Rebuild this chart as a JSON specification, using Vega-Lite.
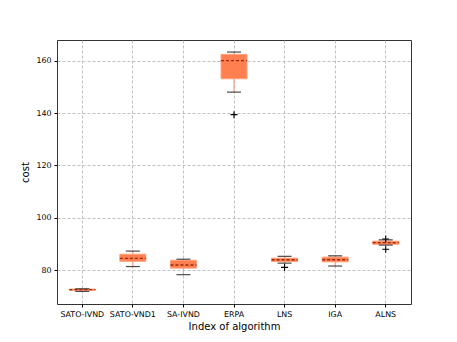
{
  "$schema": "https://vega.github.io/schema/vega-lite/v6.json",
  "autosize": "none",
  "width": 354,
  "height": 264,
  "padding": {"left": 57, "top": 40, "right": 46, "bottom": 38},
  "background": "white",
  "config": {
    "font": "DejaVu Sans",
    "view": {"stroke": "#333333", "strokeWidth": 1},
    "axis": {
      "labelFont": "DejaVu Sans",
      "titleFont": "DejaVu Sans",
      "labelFontSize": 7.9,
      "titleFontSize": 10,
      "titleFontWeight": "normal",
      "labelColor": "#000000",
      "titleColor": "#000000",
      "tickColor": "#000000",
      "tickSize": 3,
      "domain": false,
      "grid": true,
      "gridColor": "#b0b0b0",
      "gridDash": [3, 2],
      "gridWidth": 0.8
    }
  },
  "datasets": {
    "stats": [
      {"algorithm": "SATO-IVND", "lower": 71.9, "q1": 72.3, "median": 72.6, "q3": 72.8, "upper": 72.9},
      {"algorithm": "SATO-VND1", "lower": 81.4, "q1": 83.4, "median": 84.5, "q3": 86.1, "upper": 87.3},
      {"algorithm": "SA-IVND", "lower": 78.3, "q1": 80.8, "median": 82.0, "q3": 83.8, "upper": 84.2},
      {"algorithm": "ERPA", "lower": 148.0, "q1": 153.1, "median": 160.0, "q3": 162.4, "upper": 163.3},
      {"algorithm": "LNS", "lower": 82.7, "q1": 83.3, "median": 84.0, "q3": 84.6, "upper": 85.3},
      {"algorithm": "IGA", "lower": 81.6, "q1": 83.2, "median": 84.0, "q3": 85.0, "upper": 85.5},
      {"algorithm": "ALNS", "lower": 89.6, "q1": 89.9, "median": 90.5, "q3": 91.1, "upper": 91.6}
    ],
    "outliers": [
      {"algorithm": "ERPA", "cost": 139.4},
      {"algorithm": "LNS", "cost": 81.1},
      {"algorithm": "ALNS", "cost": 88.0},
      {"algorithm": "ALNS", "cost": 91.9}
    ]
  },
  "encoding": {
    "x": {
      "field": "algorithm",
      "type": "nominal",
      "sort": ["SATO-IVND", "SATO-VND1", "SA-IVND", "ERPA", "LNS", "IGA", "ALNS"],
      "scale": {"paddingInner": 0, "paddingOuter": 0},
      "axis": {"title": "Index of algorithm", "labelAngle": 0, "bandPosition": 0.5, "titlePadding": 4, "labelPadding": 3}
    }
  },
  "layer": [
    {
      "data": {"name": "stats"},
      "mark": {"type": "rule", "color": "#ffa07a", "strokeWidth": 1.2},
      "encoding": {
        "y": {
          "field": "lower",
          "type": "quantitative",
          "scale": {"domain": [67.1, 167.9], "nice": false, "zero": false},
          "axis": {"title": "cost", "values": [80, 100, 120, 140, 160], "titlePadding": 5, "labelPadding": 3}
        },
        "y2": {"field": "upper"}
      }
    },
    {
      "data": {"name": "stats"},
      "mark": {"type": "bar", "color": "#ff7f50", "stroke": "#ffa07a", "strokeWidth": 1, "size": 26},
      "encoding": {
        "y": {"field": "q1", "type": "quantitative"},
        "y2": {"field": "q3"}
      }
    },
    {
      "data": {"name": "stats"},
      "mark": {"type": "tick", "color": "#000000", "size": 14, "thickness": 1.2},
      "encoding": {"y": {"field": "lower", "type": "quantitative"}}
    },
    {
      "data": {"name": "stats"},
      "mark": {"type": "tick", "color": "#000000", "size": 14, "thickness": 1.2},
      "encoding": {"y": {"field": "upper", "type": "quantitative"}}
    },
    {
      "data": {"name": "stats"},
      "mark": {"type": "rule", "color": "#9a2a0c", "strokeWidth": 1.3, "strokeDash": [3, 2]},
      "encoding": {
        "x": {"field": "algorithm", "type": "nominal", "bandPosition": 0.243, "sort": ["SATO-IVND", "SATO-VND1", "SA-IVND", "ERPA", "LNS", "IGA", "ALNS"]},
        "x2": {"field": "algorithm", "bandPosition": 0.757},
        "y": {"field": "median", "type": "quantitative"}
      }
    },
    {
      "data": {"name": "outliers"},
      "mark": {"type": "point", "shape": "M-1,0H1M0,-1V1", "filled": false, "stroke": "#000000", "strokeWidth": 1.1, "size": 49, "opacity": 1},
      "encoding": {"y": {"field": "cost", "type": "quantitative"}}
    }
  ]
}
